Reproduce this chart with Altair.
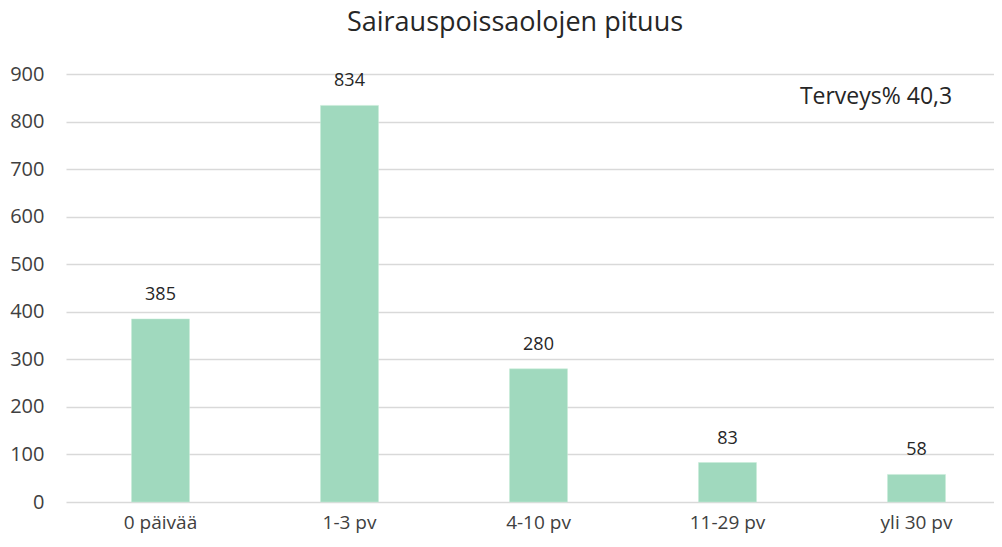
import altair as alt
import pandas as pd

categories = ["0 päivää", "1-3 pv", "4-10 pv", "11-29 pv", "yli 30 pv"]
values = [385, 834, 280, 83, 58]
y_ticks = [0, 100, 200, 300, 400, 500, 600, 700, 800, 900]
title_text = "Sairauspoissaolojen pituus"
note_text = "Terveys% 40,3"

df = pd.DataFrame({"cat": categories, "val": values})

FONT = "Open Sans"
W, H = 928, 494
GRID_H = 428  # pixel height of the 0..900 gridded region
Y_MAX = 900 * H / GRID_H  # headroom above the top gridline for the title

x = alt.X("cat:N", sort=categories, title=None,
          scale=alt.Scale(range=[0, 945], paddingInner=0.693),
          axis=alt.Axis(labelAngle=0, ticks=False, domain=False, labelFont=FONT,
                        labelFontSize=19, labelColor="#404040", labelPadding=11))
y = alt.Y("val:Q", title=None,
          scale=alt.Scale(domain=[0, Y_MAX], nice=False),
          axis=alt.Axis(values=y_ticks, ticks=False, domain=False, labelFont=FONT,
                        labelFontSize=20, labelColor="#404040", labelPadding=22,
                        gridColor="#d9d9d9", gridWidth=1.3))

bars = alt.Chart(df).mark_bar(color="#a0d9be", stroke="#c8ecd9", strokeWidth=0.5).encode(x=x, y=y)
labels = alt.Chart(df).mark_text(dy=-24, font=FONT, fontSize=18, color="#262626").encode(
    x=x, y=y, text="val:Q")
note = alt.Chart(pd.DataFrame({"t": [note_text]})).mark_text(
    font=FONT, fontSize=23, color="#262626", align="center").encode(
    x=alt.value(810), y=alt.value(89), text="t:N")
title = alt.Chart(pd.DataFrame({"t": [title_text]})).mark_text(
    font=FONT, fontSize=27, color="#262626", align="center", baseline="middle").encode(
    x=alt.value(449), y=alt.value(15), text="t:N")

chart = alt.layer(bars, labels, note, title).properties(
    width=W, height=H,
    padding={"left": 58, "top": 0, "right": 0, "bottom": 40},
    autosize=alt.AutoSizeParams(type="none"),
).configure_view(stroke=None)

chart.save("out.html", embed_options={"renderer": "svg", "actions": False})
